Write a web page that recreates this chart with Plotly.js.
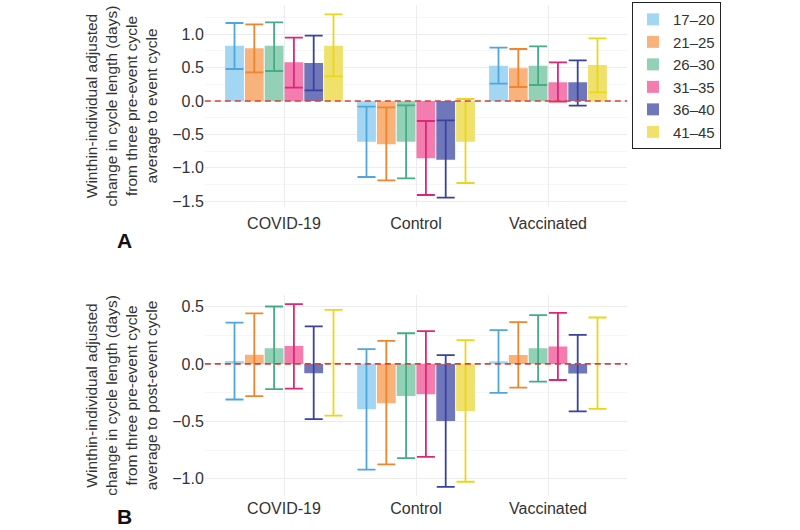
<!DOCTYPE html>
<html>
<head>
<meta charset="utf-8">
<script src="https://cdn.plot.ly/plotly-3.0.1.min.js"></script>
<style>html,body{margin:0;padding:0;background:#fff;}#chart{width:800px;height:530px;}</style>
</head>
<body>
<div id="chart"></div>
<script>
// Categories and age groups
const groups = ['COVID-19', 'Control', 'Vaccinated'];
const ageGroups = ['17–20', '21–25', '26–30', '31–35', '36–40', '41–45'];

// Panel A: pre-event average -> event cycle (rows = age groups, cols = groups)
const meanA = [
  [0.83, -0.61, 0.53],
  [0.79, -0.65, 0.49],
  [0.83, -0.61, 0.53],
  [0.58, -0.86, 0.28],
  [0.57, -0.88, 0.28],
  [0.83, -0.61, 0.54]
];
const lowA = [
  [0.48, -1.14, 0.26],
  [0.43, -1.19, 0.21],
  [0.45, -1.16, 0.24],
  [0.20, -1.41, -0.01],
  [0.16, -1.45, -0.07],
  [0.37, -1.23, 0.13]
];
const highA = [
  [1.17, -0.085, 0.80],
  [1.15, -0.095, 0.78],
  [1.18, -0.065, 0.82],
  [0.95, -0.30, 0.58],
  [0.98, -0.29, 0.61],
  [1.30, 0.03, 0.94]
];

// Panel B: pre-event average -> post-event cycle
const meanB = [
  [0.026, -0.395, 0.023],
  [0.08, -0.343, 0.078],
  [0.137, -0.28, 0.137],
  [0.157, -0.265, 0.151],
  [-0.081, -0.497, -0.084],
  [0.01, -0.41, 0.006]
];
const lowB = [
  [-0.31, -0.92, -0.253],
  [-0.28, -0.875, -0.206],
  [-0.22, -0.82, -0.154],
  [-0.215, -0.81, -0.14],
  [-0.48, -1.07, -0.413],
  [-0.45, -1.026, -0.392]
];
const highB = [
  [0.36, 0.128, 0.294],
  [0.44, 0.20, 0.363],
  [0.50, 0.267, 0.424],
  [0.52, 0.285, 0.445],
  [0.326, 0.076, 0.253],
  [0.47, 0.206, 0.404]
];

// Tick labels
const tickValsA = [-1.5, -1.0, -0.5, 0, 0.5, 1.0];
const tickTextA = ['−1.5', '−1.0', '−0.5', '0.0', '0.5', '1.0'];
const tickValsB = [-1.0, -0.5, 0, 0.5];
const tickTextB = ['−1.0', '−0.5', '0.0', '0.5'];

// Styles
const fillColors = ['#A3D6F2', '#F8B27C', '#92D1B6', '#F27DAE', '#6F77BA', '#F0E16C'];
const lineColors = ['#4FA6DA', '#F0852E', '#45AC88', '#DE2679', '#3A429F', '#EAD61A'];
const FONT = '"Liberation Sans", Arial, Helvetica, sans-serif';

const traces = [];
function addPanel(mean, low, high, xa, ya, showLegend) {
  ageGroups.forEach((ag, i) => {
    traces.push({
      type: 'bar',
      name: ag,
      legendgroup: ag,
      showlegend: showLegend,
      x: groups,
      y: mean[i],
      xaxis: xa,
      yaxis: ya,
      marker: {color: fillColors[i], line: {width: 0}},
      error_y: {
        type: 'data',
        symmetric: false,
        array: high[i].map((h, j) => h - mean[i][j]),
        arrayminus: low[i].map((l, j) => mean[i][j] - l),
        color: lineColors[i],
        thickness: 1.8,
        width: 9
      },
      hoverinfo: 'skip'
    });
  });
}
addPanel(meanA, lowA, highA, 'x', 'y', true);
addPanel(meanB, lowB, highB, 'x2', 'y2', false);

const gridC = '#ececec';
const yTitleA = 'Winthin-individual adjusted<br>change in cycle length (days)<br>from three pre-event cycle<br>average to event cycle';
const yTitleB = 'Winthin-individual adjusted<br>change in cycle length (days)<br>from three pre-event cycle<br>average to post-event cycle';

const xCommon = {
  type: 'category',
  range: [-0.6, 2.6],
  showgrid: true,
  gridcolor: gridC,
  zeroline: false,
  showline: false,
  ticks: '',
  tickfont: {family: FONT, size: 16, color: '#333'},
  fixedrange: true
};
const yCommon = {
  showgrid: true,
  gridcolor: gridC,
  zeroline: false,
  showline: false,
  ticks: '',
  tickmode: 'array',
  tickfont: {family: FONT, size: 16, color: '#333'},
  minor: {tickmode: 'linear', tick0: 0, dtick: 0.25, showgrid: true, gridcolor: '#f6f6f6', ticks: ''},
  fixedrange: true
};

const layout = {
  width: 800,
  height: 530,
  margin: {l: 0, r: 0, t: 0, b: 0},
  paper_bgcolor: '#fff',
  plot_bgcolor: '#fff',
  font: {family: FONT, color: '#333'},
  barmode: 'group',
  bargap: 0.1,
  bargroupgap: 0.05,
  xaxis: Object.assign({}, xCommon, {domain: [0.256, 0.784], anchor: 'y', ticklabelstandoff: 5}),
  xaxis2: Object.assign({}, xCommon, {domain: [0.256, 0.784], anchor: 'y2', ticklabelstandoff: 1}),
  yaxis: Object.assign({}, yCommon, {
    domain: [0.6094, 0.9906], anchor: 'x', range: [-1.59, 1.44],
    tickvals: tickValsA, ticktext: tickTextA,
    title: {text: yTitleA, font: {family: FONT, size: 15.5, color: '#333'}, standoff: 10}
  }),
  yaxis2: Object.assign({}, yCommon, {
    domain: [0.0642, 0.4434], anchor: 'x2', range: [-1.15, 0.6],
    tickvals: tickValsB, ticktext: tickTextB,
    title: {text: yTitleB, font: {family: FONT, size: 15.5, color: '#333'}, standoff: 10}
  }),
  legend: {
    x: 0.79, y: 0.996, xanchor: 'left', yanchor: 'top',
    bordercolor: '#222', borderwidth: 1, bgcolor: '#fff',
    font: {family: FONT, size: 15, color: '#333'},
    tracegroupgap: 0
  },
  shapes: [
    {type: 'line', xref: 'x domain', yref: 'y', x0: 0, x1: 1, y0: 0, y1: 0,
     line: {color: '#D2443A', width: 1.6, dash: '6px,4px'}, layer: 'above'},
    {type: 'line', xref: 'x2 domain', yref: 'y2', x0: 0, x1: 1, y0: 0, y1: 0,
     line: {color: '#D2443A', width: 1.6, dash: '6px,4px'}, layer: 'above'}
  ],
  annotations: [
    {text: '<b>A</b>', xref: 'paper', yref: 'paper', x: 124 / 800, y: 1 - 240 / 530,
     showarrow: false, xanchor: 'center', yanchor: 'middle', font: {family: FONT, size: 21, color: '#111'}},
    {text: '<b>B</b>', xref: 'paper', yref: 'paper', x: 124 / 800, y: 1 - 516 / 530,
     showarrow: false, xanchor: 'center', yanchor: 'middle', font: {family: FONT, size: 21, color: '#111'}}
  ]
};

Plotly.newPlot('chart', traces, layout, {displayModeBar: false, staticPlot: true});
</script>
</body>
</html>
